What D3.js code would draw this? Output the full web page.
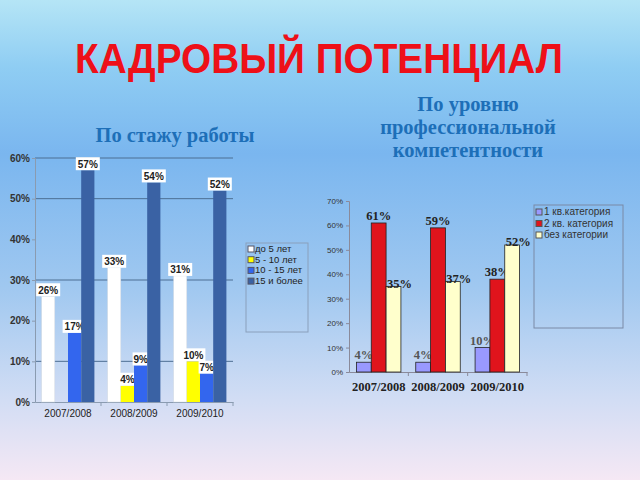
<!DOCTYPE html>
<html>
<head>
<meta charset="utf-8">
<script src="https://cdn.jsdelivr.net/npm/d3@7"></script>
<style>
    body { margin: 0; }
    svg { display: block; }
</style>
</head>
<body>
<div id="slide"></div>
<script>
    'use strict';

    const years = ['2007/2008', '2008/2009', '2009/2010'];

    // По стажу работы
    const tenureKeys = ['до 5 лет', '5 - 10 лет', '10 - 15 лет', '15 и более'];
    const tenureValues = [
        [26, 33, 31],
        [0, 4, 10],
        [17, 9, 7],
        [57, 54, 52]
    ];
    const tenureColors = ['#ffffff', '#ffff00', '#3366ee', '#3a62a4'];
    const tenureTicks = [0, 10, 20, 30, 40, 50, 60];

    // По уровню профессиональной компетентности
    const skillKeys = ['1 кв.категория', '2 кв. категория', 'без категории'];
    const skillValues = [
        [4, 4, 10],
        [61, 59, 38],
        [35, 37, 52]
    ];
    const skillColors = ['#9999ff', '#e0141c', '#ffffcc'];
    const skillTicks = [0, 10, 20, 30, 40, 50, 60, 70];

    const W = 640, H = 480;
    const svg = d3.select('#slide').append('svg').attr('width', W).attr('height', H);

    const defs = svg.append('defs');
    const bg = defs.append('linearGradient').attr('id', 'bg').attr('x1', 0).attr('y1', 0).attr('x2', 0).attr('y2', 1);
    [['0%', '#b5e5f6'], ['14%', '#8fcdf3'], ['32%', '#7ab6ef'], ['60%', '#a0c8f0'], ['82%', '#cfdcf4'], ['100%', '#f5e8f4']]
        .forEach(function (s) { bg.append('stop').attr('offset', s[0]).attr('stop-color', s[1]); });
    svg.append('rect').attr('width', W).attr('height', H).attr('fill', 'url(#bg)');

    svg.append('text').attr('x', 75).attr('y', 73)
        .attr('textLength', 488).attr('lengthAdjust', 'spacingAndGlyphs')
        .style('font', 'bold 42px "Liberation Sans", Arial, sans-serif').attr('fill', '#ee1018')
        .text('КАДРОВЫЙ ПОТЕНЦИАЛ');

    const subFont = 'bold 20.5px "Liberation Serif", "Times New Roman", serif';
    svg.append('text').attr('x', 175).attr('y', 142).attr('text-anchor', 'middle')
        .style('font', subFont).attr('fill', '#1d6fb8').text('По стажу работы');
    ['По уровню', 'профессиональной', 'компетентности'].forEach(function (t, i) {
        svg.append('text').attr('x', 468).attr('y', 111 + i * 23).attr('text-anchor', 'middle')
            .style('font', subFont).attr('fill', '#1d6fb8').text(t);
    });

    // ---- левый график ----
    const left = {x0: 35, x1: 233, top: 158, bottom: 402};
    const lx0 = d3.scaleBand().domain(years).range([left.x0, left.x1]).paddingInner(0.2).paddingOuter(0.1);
    const lx1 = d3.scaleBand().domain(d3.range(tenureKeys.length)).range([0, lx0.bandwidth()]);
    const ly = d3.scaleLinear().domain([0, 60]).range([left.bottom, left.top]);
    const lg = svg.append('g');

    lg.selectAll('.grid').data([10, 30, 50, 60]).enter().append('line')
        .attr('x1', left.x0).attr('x2', left.x1)
        .attr('y1', function (d) { return ly(d); }).attr('y2', function (d) { return ly(d); })
        .attr('stroke', '#4d6f93').attr('stroke-width', 1);

    lg.append('g').attr('transform', 'translate(' + left.x0 + ',0)')
        .call(d3.axisLeft(ly).tickValues(tenureTicks).tickFormat(function (d) { return d + '%'; }).tickSize(3))
        .call(function (g) {
            g.select('.domain').attr('stroke', '#8a9bb0');
            g.selectAll('.tick line').attr('stroke', '#8a9bb0');
            g.selectAll('text').attr('x', -5).style('font', 'bold 10px "Liberation Sans", Arial, sans-serif').attr('fill', '#333');
        });

    const lxa = d3.scaleBand().domain(years).range([left.x0, left.x1]);
    lg.append('g').attr('transform', 'translate(0,' + left.bottom + ')')
        .call(d3.axisBottom(lxa).tickSize(0).tickPadding(8))
        .call(function (g) {
            g.select('.domain').attr('stroke', '#8a9bb0');
            g.selectAll('text').style('font', '10px "Liberation Sans", Arial, sans-serif').attr('fill', '#222');
        });
    lg.selectAll('.sep').data(years).enter().append('line')
        .attr('x1', function (d) { return lxa(d) + lxa.bandwidth(); })
        .attr('x2', function (d) { return lxa(d) + lxa.bandwidth(); })
        .attr('y1', left.bottom).attr('y2', left.bottom + 4).attr('stroke', '#8a9bb0');

    tenureKeys.forEach(function (k, si) {
        const gs = lg.append('g');
        gs.selectAll('rect').data(tenureValues[si]).enter().append('rect')
            .attr('x', function (d, i) { return lx0(years[i]) + lx1(si); })
            .attr('width', lx1.bandwidth())
            .attr('y', function (d) { return ly(d); })
            .attr('height', function (d) { return left.bottom - ly(d); })
            .attr('fill', tenureColors[si])
            .attr('stroke', si === 0 ? '#d0d8e0' : 'none').attr('stroke-width', 0.5);

        const lab = gs.selectAll('.lab').data(tenureValues[si].map(function (v, i) { return {v: v, i: i}; })
            .filter(function (d) { return d.v > 0; }))
            .enter().append('g')
            .attr('transform', function (d) {
                return 'translate(' + (lx0(years[d.i]) + lx1(si) + lx1.bandwidth() / 2) + ',' + ly(d.v) + ')';
            });
        lab.append('rect')
            .attr('x', function (d) { return d.v < 10 ? -8 : -12; })
            .attr('width', function (d) { return d.v < 10 ? 16 : 24; })
            .attr('y', -13).attr('height', 13).attr('fill', '#ffffff');
        lab.append('text').attr('y', -2.5).attr('text-anchor', 'middle')
            .style('font', 'bold 10px "Liberation Sans", Arial, sans-serif').attr('fill', '#222')
            .text(function (d) { return d.v + '%'; });
    });

    const leg1 = svg.append('g').attr('transform', 'translate(246,243)');
    leg1.append('rect').attr('width', 62).attr('height', 89).attr('fill', 'none').attr('stroke', '#8aa0bc');
    tenureKeys.forEach(function (k, i) {
        const row = leg1.append('g').attr('transform', 'translate(2,' + (7 + i * 10.7) + ')');
        row.append('rect').attr('x', 0).attr('y', -4).attr('width', 6).attr('height', 6)
            .attr('fill', tenureColors[i]).attr('stroke', '#556');
        row.append('text').attr('x', 7).attr('y', 2).style('font', '9.5px "Liberation Sans", Arial, sans-serif')
            .attr('fill', '#222').text(k);
    });

    // ---- правый график ----
    const right = {x0: 349, x1: 527, top: 201, bottom: 372};
    const rx0 = d3.scaleBand().domain(years).range([right.x0, right.x1]).paddingInner(0.25).paddingOuter(0.125);
    const rx1 = d3.scaleBand().domain(d3.range(skillKeys.length)).range([0, rx0.bandwidth()]);
    const ry = d3.scaleLinear().domain([0, 70]).range([right.bottom, right.top]);
    const rg = svg.append('g');

    rg.append('g').attr('transform', 'translate(' + right.x0 + ',0)')
        .call(d3.axisLeft(ry).tickValues(skillTicks).tickFormat(function (d) { return d + '%'; }).tickSize(3))
        .call(function (g) {
            g.select('.domain').attr('stroke', '#8a8a9a');
            g.selectAll('.tick line').attr('stroke', '#8a8a9a');
            g.selectAll('text').attr('x', -6).style('font', '8px "Liberation Sans", Arial, sans-serif').attr('fill', '#333');
        });

    const rxa = d3.scaleBand().domain(years).range([right.x0, right.x1]);
    rg.append('g').attr('transform', 'translate(0,' + right.bottom + ')')
        .call(d3.axisBottom(rxa).tickSize(0).tickPadding(10))
        .call(function (g) {
            g.select('.domain').attr('stroke', '#8a8a9a');
            g.selectAll('text').style('font', 'bold 12.5px "Liberation Serif", "Times New Roman", serif').attr('fill', '#222');
        });
    rg.selectAll('.sep').data(years).enter().append('line')
        .attr('x1', function (d) { return rxa(d) + rxa.bandwidth(); })
        .attr('x2', function (d) { return rxa(d) + rxa.bandwidth(); })
        .attr('y1', right.bottom).attr('y2', right.bottom + 4).attr('stroke', '#8a8a9a');

    skillKeys.forEach(function (k, si) {
        const gs = rg.append('g');
        gs.selectAll('rect').data(skillValues[si]).enter().append('rect')
            .attr('x', function (d, i) { return rx0(years[i]) + rx1(si); })
            .attr('width', rx1.bandwidth())
            .attr('y', function (d) { return ry(d); })
            .attr('height', function (d) { return right.bottom - ry(d); })
            .attr('fill', skillColors[si]).attr('stroke', '#222').attr('stroke-width', 0.8);
        gs.selectAll('text').data(skillValues[si]).enter().append('text')
            .attr('x', function (d, i) { return rx0(years[i]) + rx1(si) + rx1.bandwidth() / 2 + (si === 2 ? 6 : 0); })
            .attr('y', function (d) { return ry(d) + (si === 2 ? 1 : -3); })
            .attr('text-anchor', 'middle')
            .style('font', 'bold 12.5px "Liberation Serif", "Times New Roman", serif')
            .attr('fill', si === 0 ? '#555' : '#222')
            .text(function (d) { return d + '%'; });
    });

    const leg2 = svg.append('g').attr('transform', 'translate(534,205)');
    leg2.append('rect').attr('width', 89).attr('height', 123).attr('fill', 'none').attr('stroke', '#7a8aa6');
    skillKeys.forEach(function (k, i) {
        const row = leg2.append('g').attr('transform', 'translate(2,' + (8 + i * 11.5) + ')');
        row.append('rect').attr('x', 0).attr('y', -4).attr('width', 6).attr('height', 6)
            .attr('fill', skillColors[i]).attr('stroke', '#555');
        row.append('text').attr('x', 8).attr('y', 2).style('font', '10px "Liberation Sans", Arial, sans-serif')
            .attr('fill', '#333').text(k);
    });
</script>
</body>
</html>
